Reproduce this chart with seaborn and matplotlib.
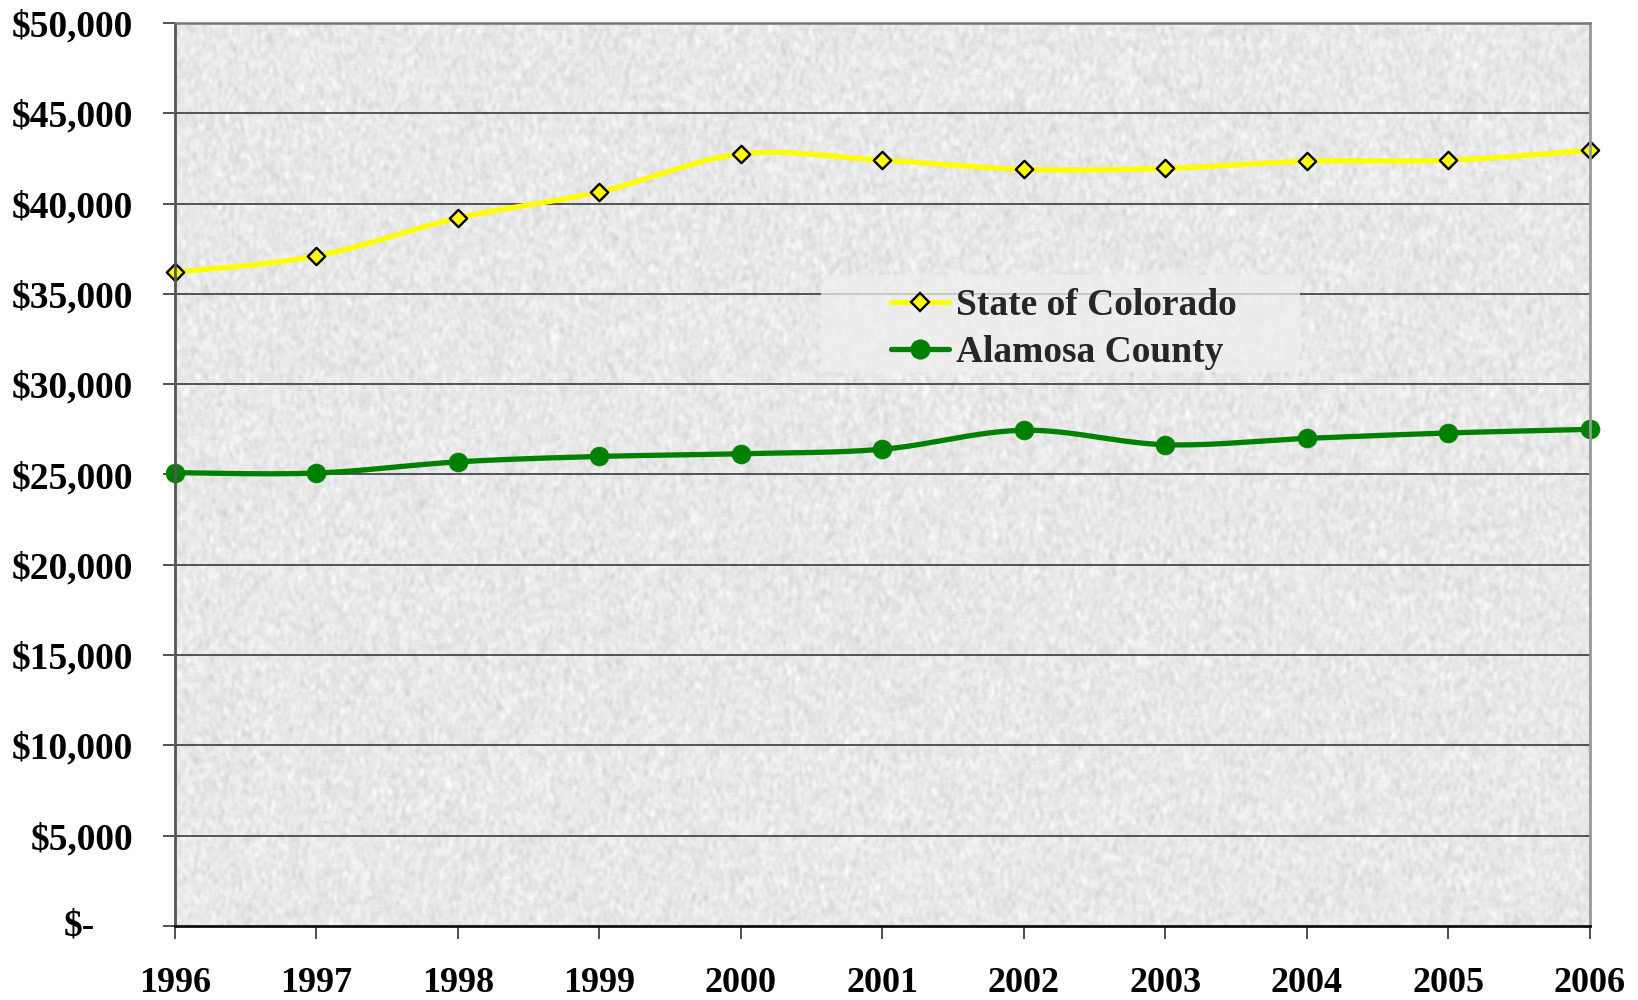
import numpy as np
import pandas as pd
import matplotlib
matplotlib.use("Agg")
import matplotlib.pyplot as plt
import matplotlib.transforms as mtransforms
import seaborn as sns
from matplotlib.lines import Line2D
from matplotlib.patches import Rectangle

# ---------------- data ----------------
years = [1996, 1997, 1998, 1999, 2000, 2001, 2002, 2003, 2004, 2005, 2006]
colorado = [36200, 37100, 39200, 40650, 42750, 42400, 41900, 41950, 42350, 42400, 42950]
alamosa = [25100, 25080, 25700, 26000, 26150, 26400, 27450, 26650, 27000, 27300, 27500]
series_names = ["State of Colorado", "Alamosa County"]
y_ticks = [0, 5000, 10000, 15000, 20000, 25000, 30000, 35000, 40000, 45000, 50000]
y_tick_labels = ["$-", "$5,000", "$10,000", "$15,000", "$20,000", "$25,000",
                 "$30,000", "$35,000", "$40,000", "$45,000", "$50,000"]
x_tick_labels = [str(y) for y in years]


def excel_smooth(x, y, n=30):
    """Bezier smoothing (Catmull-Rom style) like Excel's smoothed line."""
    x = np.asarray(x, float)
    y = np.asarray(y, float)
    P = np.column_stack([x, y])
    Pext = np.vstack([P[0], P, P[-1]])
    out = []
    t = np.linspace(0, 1, n)[:, None]
    for i in range(len(P) - 1):
        p0, p1, p2, p3 = Pext[i], Pext[i + 1], Pext[i + 2], Pext[i + 3]
        c1 = p1 + (p2 - p0) / 6.0
        c2 = p2 - (p3 - p1) / 6.0
        seg = ((1 - t) ** 3) * p1 + 3 * ((1 - t) ** 2) * t * c1 + 3 * (1 - t) * t ** 2 * c2 + t ** 3 * p2
        out.append(seg if i == 0 else seg[1:])
    arr = np.vstack(out)
    return arr[:, 0], arr[:, 1]


sns.set_theme(style="white")
plt.rcParams["font.family"] = ["Liberation Serif", "DejaVu Serif"]
plt.rcParams["font.weight"] = "bold"

fig = plt.figure(figsize=(16.38, 10.0), dpi=100)
fig.patch.set_facecolor("white")
ax = fig.add_axes([175 / 1638, 1 - 926 / 1000, (1590 - 175) / 1638, (926 - 23) / 1000])

# granite-like background texture (decorative only)
rng = np.random.default_rng(3)
tex = rng.normal(0, 1, (420, 700))
k = np.ones(3) / 3
tex = np.apply_along_axis(lambda r: np.convolve(r, k, mode="same"), 0, tex)
tex = np.apply_along_axis(lambda r: np.convolve(r, np.ones(2) / 2, mode="same"), 1, tex)
tex = np.clip(0.91 + 0.055 * tex, 0.72, 0.99)
ax.imshow(tex, extent=[0, 1, 0, 1], transform=ax.transAxes, aspect="auto",
          cmap="gray", vmin=0, vmax=1, zorder=0, interpolation="bilinear")

# gridlines
for v in y_ticks[1:-1]:
    ax.axhline(v, color="#2a2a2a", linewidth=1.1, zorder=1)

# legend background patch (covers gridline)
ax.add_patch(Rectangle(((821 - 175) / 1415, (926 - 372) / 903), (1300 - 821) / 1415, (372 - 275) / 903,
                       transform=ax.transAxes, facecolor="#efefef", edgecolor="none", alpha=0.75, zorder=1.5))

# smoothed lines
cx, cy = excel_smooth(years, colorado)
ax_, ay_ = excel_smooth(years, alamosa)
sns.lineplot(x=cx, y=cy, sort=False, estimator=None, color="#FFFF00", linewidth=3.8, ax=ax, zorder=3)
sns.lineplot(x=ax_, y=ay_, sort=False, estimator=None, color="#008000", linewidth=3.8, ax=ax, zorder=3)

df = pd.DataFrame({"year": years, "colorado": colorado, "alamosa": alamosa})
sns.scatterplot(data=df, x="year", y="colorado", marker="D", s=78, color="#FFFF00",
                edgecolor="black", linewidth=1.7, ax=ax, zorder=4, clip_on=False)
sns.scatterplot(data=df, x="year", y="alamosa", marker="o", s=185, color="#008000",
                edgecolor="#008000", linewidth=0.5, ax=ax, zorder=4, clip_on=False)

ax.set_xlim(years[0], years[-1])
ax.set_ylim(y_ticks[0], y_ticks[-1])
ax.set_xticks(years)
ax.set_xticklabels(x_tick_labels)
ax.set_yticks(y_ticks)
ax.set_yticklabels([""] + y_tick_labels[1:])
ax.set_xlabel("")
ax.set_ylabel("")
ax.grid(False)

ax.tick_params(axis="both", which="both", direction="out", length=9, width=1.2,
               color="#333333", bottom=True, left=True)
ax.tick_params(axis="y", pad=21, labelsize=27)
ax.tick_params(axis="x", pad=20.5, labelsize=26)
for lab in ax.get_xticklabels() + ax.get_yticklabels():
    lab.set_fontweight("bold")
    lab.set_color("black")

# zero label in accounting style
trans = mtransforms.blended_transform_factory(ax.transAxes, ax.transData)
ax.text((95 - 175) / 1415, y_ticks[0], y_tick_labels[0], transform=trans, ha="right", va="center",
        fontsize=27, fontweight="bold", color="black")

for side, col, lw in [("left", "#555555", 2.0), ("bottom", "#111111", 2.0),
                      ("top", "#777777", 1.8), ("right", "#999999", 2.0)]:
    ax.spines[side].set_visible(True)
    ax.spines[side].set_color(col)
    ax.spines[side].set_linewidth(lw)
    ax.spines[side].set_zorder(5)

handles = [
    Line2D([0], [0], color="#FFFF00", linewidth=3.8, marker="D", markersize=8.8,
           markerfacecolor="#FFFF00", markeredgecolor="black", markeredgewidth=1.7),
    Line2D([0], [0], color="#008000", linewidth=3.8, marker="o", markersize=13.5,
           markerfacecolor="#008000", markeredgecolor="#008000"),
]
leg = fig.legend(handles, series_names, loc="upper left",
                 bbox_to_anchor=(891 / 1638, 1 - 288 / 1000), bbox_transform=fig.transFigure,
                 frameon=False, handlelength=1.55, handletextpad=0.19,
                 labelspacing=0.31, borderpad=0.0, borderaxespad=0.0,
                 prop={"family": ["Liberation Serif"], "weight": "bold", "size": 27})

fig.savefig("out.png", dpi=100)
